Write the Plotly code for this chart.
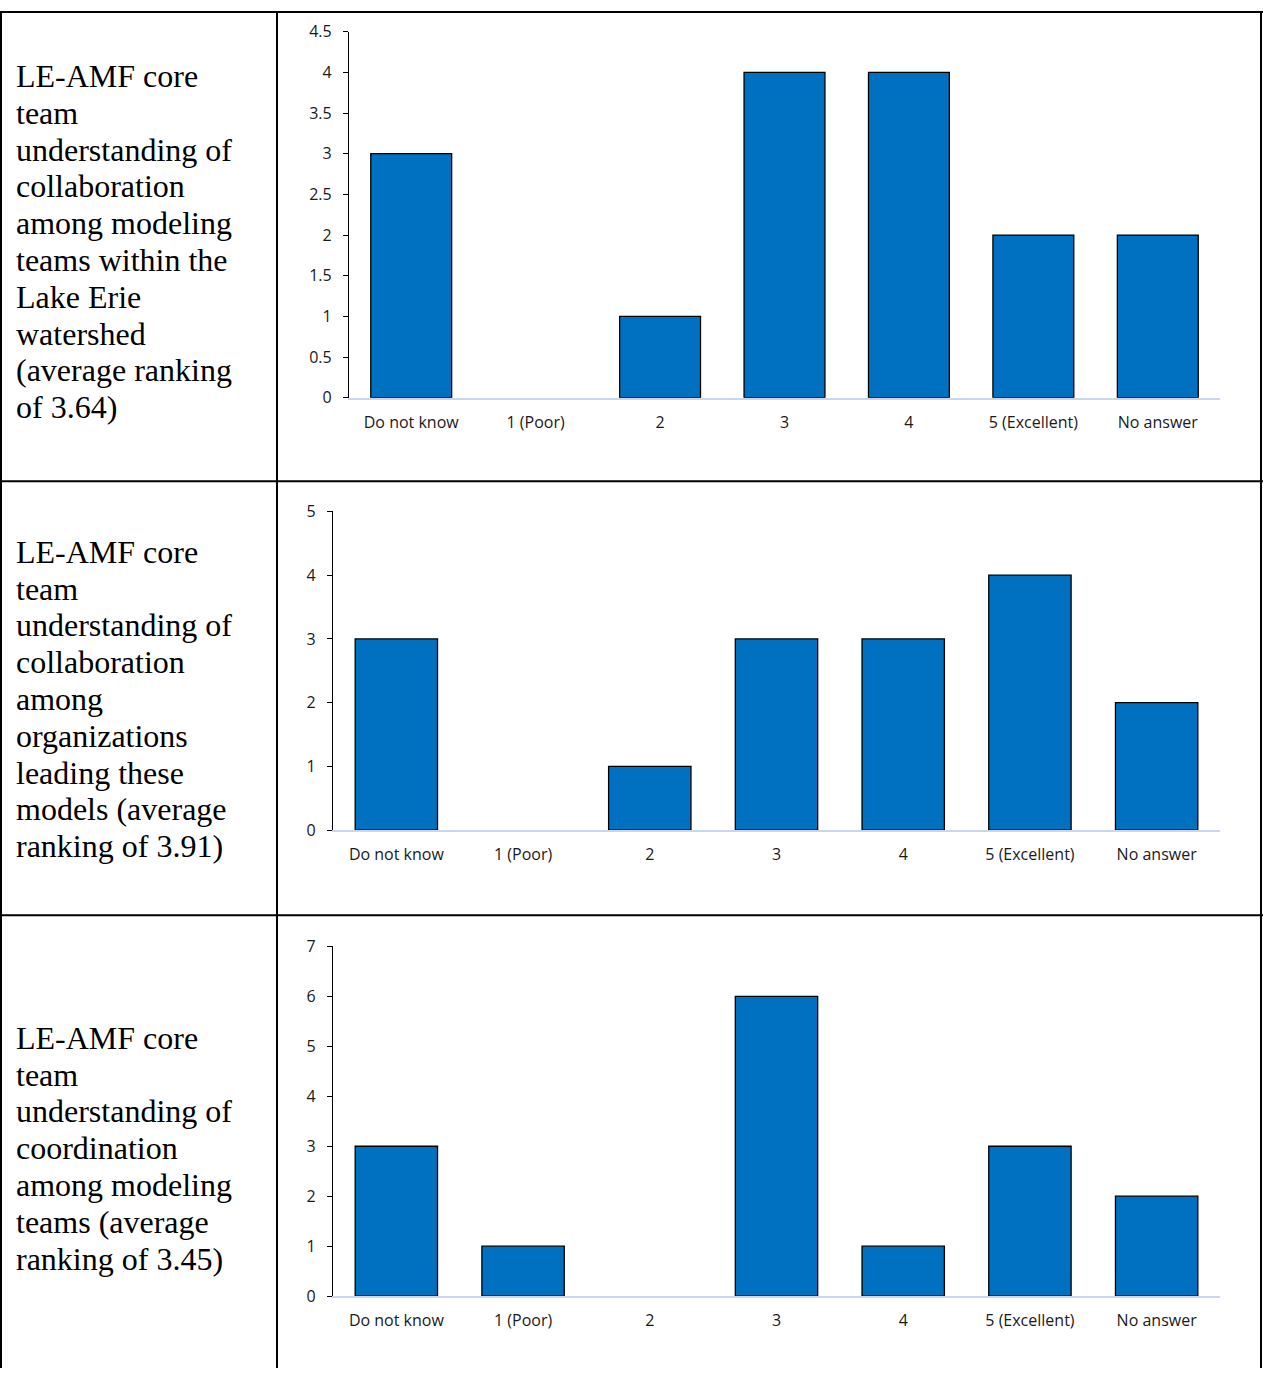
import plotly.graph_objects as go

W, H = 1263, 1379

categories = ["Do not know", "1 (Poor)", "2", "3", "4", "5 (Excellent)", "No answer"]

modeling_collab_counts = [3, 0, 1, 4, 4, 2, 2]
organization_collab_counts = [3, 0, 1, 3, 3, 4, 2]
modeling_coord_counts = [3, 1, 0, 6, 1, 3, 2]

row_labels = [
    ["LE-AMF core", "team", "understanding of", "collaboration", "among modeling",
     "teams within the", "Lake Erie", "watershed", "(average ranking", "of 3.64)"],
    ["LE-AMF core", "team", "understanding of", "collaboration", "among",
     "organizations", "leading these", "models (average", "ranking of 3.91)"],
    ["LE-AMF core", "team", "understanding of", "coordination", "among modeling",
     "teams (average", "ranking of 3.45)"],
]

y_ranges = [(0, 4.5, 0.5), (0, 5, 1), (0, 7, 1)]
series = [modeling_collab_counts, organization_collab_counts, modeling_coord_counts]

# pixel geometry of each panel: (left, right, top, bottom) of the plot area
panels = [(349, 1220, 21, 393), (333, 1220, 508.5, 832.5), (333, 1220, 950.5, 1306)]
# first text line center and line pitch for each table row
text_top = [66, 549.5, 1043.5]
line_pitch = 37.4
# horizontal table rules (top border and row separators)
row_rules = [1, 478, 919]
col_rules = [1, 277, 1261]

BAR = "#0070C0"
XLINE = "#C9D6EE"
TICKFONT = "Open Sans"


def px(x):
    return x / W


def py(y):
    return 1 - y / H


fig = go.Figure()
layout = dict(
    width=W, height=H, margin=dict(l=0, r=0, t=0, b=0),
    paper_bgcolor="white", plot_bgcolor="white", showlegend=False,
    bargap=0.35,
)

for i, (vals, (lo, hi, step), (l, r, t, b)) in enumerate(zip(series, y_ranges, panels)):
    n = "" if i == 0 else str(i + 1)
    # empty categories get no bar at all (avoids a flat outline on the baseline)
    heights = [v if v else None for v in vals]
    fig.add_trace(go.Bar(
        x=categories, y=heights, xaxis="x" + n, yaxis="y" + n,
        marker=dict(color=BAR, line=dict(color="black", width=1.3)),
        customdata=vals, hovertemplate="%{x}: %{customdata}<extra></extra>",
    ))
    layout["xaxis" + n] = dict(
        domain=[px(l), px(r)], anchor="y" + n,
        showline=True, linecolor=XLINE, linewidth=1.5,
        showgrid=False, zeroline=False, ticks="",
        ticklabelstandoff=9,
        tickfont=dict(family=TICKFONT, size=16, color="#1a1a1a"),
        fixedrange=True,
    )
    layout["yaxis" + n] = dict(
        domain=[py(b), py(t)], anchor="x" + n,
        range=[lo, hi], dtick=step, tick0=0,
        showline=True, linecolor="black", linewidth=1.3,
        ticks="outside", ticklen=5, tickcolor="black", tickwidth=1.3,
        ticklabelstandoff=8,
        showgrid=False, zeroline=False,
        tickfont=dict(family=TICKFONT, size=16, color="#1a1a1a"),
        fixedrange=True,
    )

annotations = []
for lines, y0 in zip(row_labels, text_top):
    for k, line in enumerate(lines):
        annotations.append(dict(
            text=line, xref="paper", yref="paper",
            x=px(14), y=py(y0 + k * line_pitch),
            xanchor="left", yanchor="middle", showarrow=False,
            font=dict(family="Liberation Serif", size=32, color="black"),
        ))
layout["annotations"] = annotations

# table rules
shapes = []
border = dict(color="black", width=2)
for y in row_rules:
    shapes.append(dict(type="line", xref="paper", yref="paper",
                       x0=0, x1=1, y0=py(y), y1=py(y), line=border))
for x in col_rules:
    shapes.append(dict(type="line", xref="paper", yref="paper",
                       x0=px(x), x1=px(x), y0=0, y1=1, line=border))
layout["shapes"] = shapes

fig.update_layout(**layout)
fig.write_html("out.html")
